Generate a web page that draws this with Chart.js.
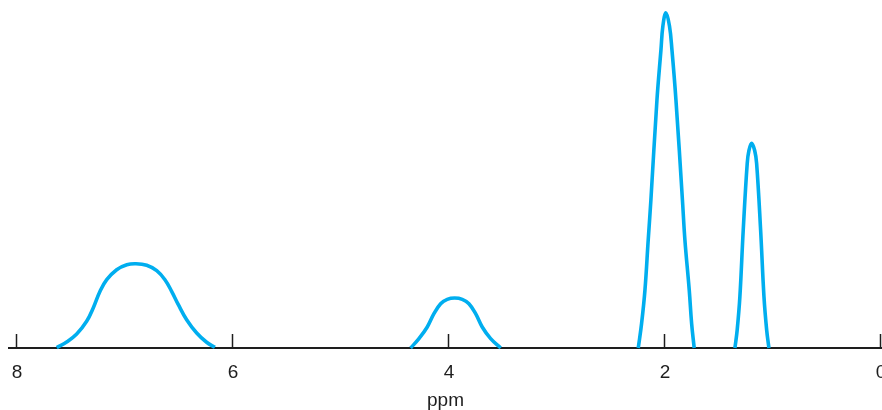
<!DOCTYPE html>
<html>
<head>
<meta charset="utf-8">
<script src="https://cdn.jsdelivr.net/npm/chart.js@4/dist/chart.umd.min.js"></script>
<style>
  html, body { margin: 0; padding: 0; background: #ffffff; }
  #wrap { width: 882px; height: 410px; }
</style>
</head>
<body>
<div id="wrap"><canvas id="c" width="882" height="410"></canvas></div>
<script>
// Chemical shift tick labels (ppm)
const tickValues = [8, 6, 4, 2, 0];
const axisTitle = "ppm";

// Peak 1 (aromatic region, ~6.9 ppm)
const peak1Ppm = [7.632, 7.540, 7.447, 7.355, 7.294, 7.231, 7.169, 7.077, 6.983, 6.898, 6.799, 6.706, 6.630, 6.568, 6.506, 6.429, 6.336, 6.244, 6.167];
const peak1Int = [0.1, 1.76, 4.12, 7.85, 11.76, 16.68, 20.09, 23.03, 24.5, 24.79, 24.32, 22.74, 20.09, 16.68, 12.74, 8.32, 4.41, 1.68, 0.2];

// Peak 2 (~3.95 ppm)
const peak2Ppm = [4.355, 4.278, 4.201, 4.139, 4.077, 4.016, 3.947, 3.877, 3.815, 3.753, 3.692, 3.614, 3.521];
const peak2Int = [0, 2.74, 6.18, 10.09, 13.03, 14.32, 14.71, 14.32, 13.03, 10.09, 6.18, 2.74, 0];

// Peak 3 (~2.0 ppm, tallest)
const peak3Ppm = [2.247, 2.216, 2.185, 2.155, 2.130, 2.074, 2.037, 2.019, 1.991, 1.958, 1.935, 1.898, 1.838, 1.815, 1.775, 1.753, 1.729];
const peak3Int = [0, 7.26, 17.06, 31.76, 43.53, 72.94, 87.65, 94.7, 98.6, 94.7, 87.65, 72.94, 43.53, 31.76, 17.06, 7.26, 0];

// Peak 4 (~1.2 ppm)
const peak4Ppm = [1.352, 1.331, 1.306, 1.275, 1.238, 1.222, 1.197, 1.169, 1.151, 1.114, 1.083, 1.058, 1.037];
const peak4Int = [0, 5.3, 15.1, 34.7, 54.3, 58.1, 60.2, 58.1, 54.3, 34.7, 15.1, 5.3, 0];

const peaks = [
  [peak1Ppm, peak1Int],
  [peak2Ppm, peak2Int],
  [peak3Ppm, peak3Int],
  [peak4Ppm, peak4Int]
];

const lineColor = "#00aeef";
const textColor = "#1e1e1e";
const fontFamily = "'Liberation Sans', Arial, Helvetica, sans-serif";

const datasets = peaks.map(([ppm, inten]) => ({
  data: ppm.map((x, i) => ({ x: x, y: inten[i] })),
  borderColor: lineColor,
  borderWidth: 3.6,
  pointRadius: 0,
  fill: false,
  tension: 0.4,
  cubicInterpolationMode: 'default',
  borderCapStyle: 'butt',
  borderJoinStyle: 'round',
  clip: false
}));

new Chart(document.getElementById('c'), {
  type: 'line',
  data: { datasets: datasets },
  options: {
    responsive: false,
    animation: false,
    events: [],
    layout: { autoPadding: false, padding: { top: 8, left: 9, right: 0, bottom: 0 } },
    plugins: { legend: { display: false }, tooltip: { enabled: false } },
    scales: {
      x: {
        type: 'linear',
        reverse: true,
        min: -0.01,
        max: 8.074,
        afterBuildTicks: (scale) => { scale.ticks = tickValues.map(v => ({ value: v })); },
        afterFit: (scale) => { scale.height = 62; scale.paddingLeft = 0; scale.paddingRight = 0; },
        grid: {
          drawOnChartArea: false,
          drawTicks: true,
          tickLength: -14,
          tickColor: '#1e1e1e',
          tickWidth: 1.5
        },
        border: { display: true, color: '#1e1e1e', width: 2 },
        ticks: {
          color: textColor,
          font: { family: fontFamily, size: 19 },
          padding: 27,
          maxRotation: 0,
          autoSkip: false,
          callback: (v) => String(v)
        },
        title: {
          display: true,
          text: axisTitle,
          color: textColor,
          font: { family: fontFamily, size: 19 },
          padding: { top: 0, bottom: -2 }
        }
      },
      y: {
        display: false,
        min: 0,
        max: 100
      }
    }
  }
});
</script>
</body>
</html>
